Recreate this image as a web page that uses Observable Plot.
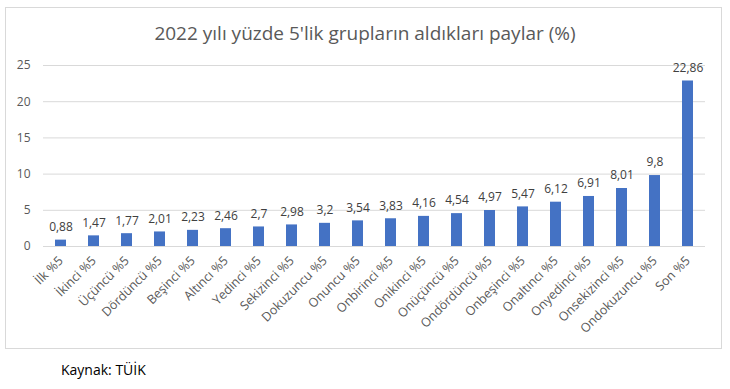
<!DOCTYPE html>
<html><head><meta charset="utf-8">
<script src="https://cdn.jsdelivr.net/npm/d3@7"></script>
<script src="https://cdn.jsdelivr.net/npm/@observablehq/plot@0.6"></script>
<style>
html,body{margin:0;padding:0;background:#fff;}
#wrap{position:relative;width:730px;height:389px;font-family:"Open Sans",sans-serif;}
#frame{position:absolute;left:5px;top:7px;width:717px;height:342px;border:1px solid #d9d9d9;box-sizing:border-box;}
#title{position:absolute;left:0;top:19px;width:730px;text-align:center;font-size:19px;color:#595959;line-height:28px;}
#chart{position:absolute;left:0;top:52px;}
#caption{position:absolute;left:61px;top:360px;font-size:14px;color:#000;line-height:20px;}
</style></head>
<body>
<div id="wrap">
<div id="frame"></div>
<div id="title">2022 yılı yüzde 5'lik grupların aldıkları paylar (%)</div>
<div id="chart"></div>
<div id="caption">Kaynak: TÜİK</div>
</div>
<script>
const groups = ["İlk %5","İkinci %5","Üçüncü %5","Dördüncü %5","Beşinci %5","Altıncı %5","Yedinci %5","Sekizinci %5","Dokuzuncu %5","Onuncu %5","Onbirinci %5","Onikinci %5","Onüçüncü %5","Ondördüncü %5","Onbeşinci %5","Onaltıncı %5","Onyedinci %5","Onsekizinci %5","Ondokuzuncu %5","Son %5"];
const shares = [0.88,1.47,1.77,2.01,2.23,2.46,2.7,2.98,3.2,3.54,3.83,4.16,4.54,4.97,5.47,6.12,6.91,8.01,9.8,22.86];
const yTicks = [0,5,10,15,20,25];

const data = groups.map((g,i)=>({group:g, value:shares[i]}));
const fmt = v => String(v).replace(".", ",");

const plot = Plot.plot({
  width: 730,
  height: 296,
  marginTop: 13,
  marginBottom: 102,
  marginLeft: 43,
  marginRight: 25,
  style: {fontFamily: "Open Sans, sans-serif", fontSize: "12px", color: "#595959", background: "transparent"},
  x: {domain: groups, paddingInner: 0.667, paddingOuter: 0.333, label: null},
  y: {domain: [0, 25], ticks: yTicks, label: null},
  marks: [
    Plot.gridY(yTicks, {stroke: "#d9d9d9", strokeOpacity: 1}),
    Plot.axisY(yTicks, {tickSize: 0, tickPadding: 13, fontSize: 12, fill: "#595959", label: null}),
    Plot.axisX({tickSize: 0, tickPadding: 12, tickRotate: -45, fontSize: 12.5, fill: "#595959", label: null}),
    Plot.barY(data, {x: "group", y: "value", fill: "#4472C4"}),
    Plot.text(data, {x: "group", y: "value", text: d => fmt(d.value), dy: -13, fill: "#404040", fontSize: 12})
  ]
});
document.getElementById("chart").appendChild(plot);
</script>
</body></html>
